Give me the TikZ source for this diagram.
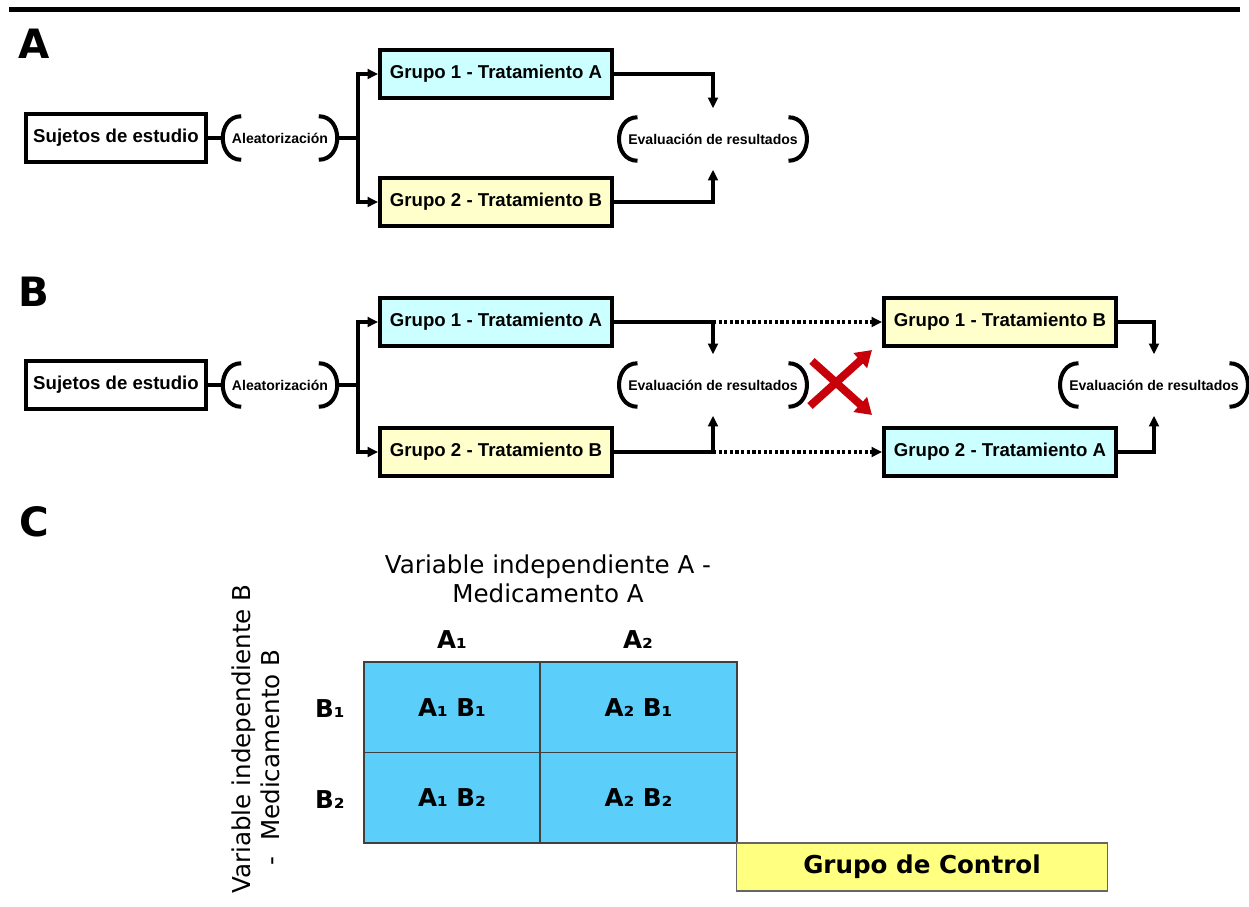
\documentclass[tikz,border=0pt]{standalone}
\usepackage{fontspec}
\setmainfont{Liberation Sans}
\newfontfamily\verdfont{DejaVu Sans}
\usetikzlibrary{arrows.meta}
\definecolor{grupoA}{RGB}{204,255,255}
\definecolor{grupoB}{RGB}{255,255,204}
\definecolor{celeste}{RGB}{92,206,250}
\definecolor{amarillo}{RGB}{255,255,128}
\definecolor{equis}{RGB}{200,0,10}

\begin{document}
\begin{tikzpicture}[x=0.02cm, y=-0.02cm, line width=2pt,
  studybox/.style={draw, line width=2.2pt, fill=white, minimum width=3.6cm, minimum height=0.96cm, inner sep=0pt, font=\bfseries\fontsize{10.6}{12}\selectfont},
  groupbox/.style={studybox, minimum width=4.64cm},
  parenlabel/.style={font=\bfseries\fontsize{8}{9}\selectfont, minimum height=0.8cm, inner xsep=0.12cm, inner ysep=0pt,
    append after command={
      ([xshift=0.34cm]\tikzlastnode.north west) edge[out=180, in=180, looseness=1.45, line width=2.3pt] ([xshift=0.34cm]\tikzlastnode.south west)
      ([xshift=-0.34cm]\tikzlastnode.north east) edge[out=0, in=0, looseness=1.45, line width=2.3pt] ([xshift=-0.34cm]\tikzlastnode.south east)}},
  flecha/.style={-{Triangle[length=6pt, width=5.5pt]}},
  aeval/.style={flecha, shorten >=0.18cm},
  cruce/.style={flecha, dash pattern=on 1.8pt off 1.4pt},
  aspa/.style={draw=equis, line width=4.5pt, -{Triangle[length=9pt, width=11pt]}},
  letra/.style={font=\verdfont\bfseries\fontsize{23}{26}\selectfont},
  ctexto/.style={font=\verdfont\fontsize{14}{16.5}\selectfont, align=center},
  cbold/.style={font=\verdfont\bfseries\fontsize{14}{16}\selectfont},
  celda/.style={cbold, draw=black!75, line width=0.6pt, fill=celeste, minimum height=1.81cm, inner sep=0pt},
  control/.style={cbold, draw=black!60, line width=0.6pt, fill=amarillo, minimum width=7.44cm, minimum height=0.96cm, inner sep=0pt}]
\useasboundingbox (0,0) rectangle (1249,907);
\draw[line width=2.4pt] (9,9.5) -- (1240,9.5);

% A
\node[letra] (letA) at (34,44) {A};
\node[studybox] (sujA) at (116,138) {Sujetos de estudio};
\node[parenlabel] (aleA) at (280,138) {Aleatorización};
\node[groupbox, fill=grupoA] (g1A) at (496,74) {Grupo 1 - Tratamiento A};
\node[groupbox, fill=grupoB] (g2A) at (496,202) {Grupo 2 - Tratamiento B};
\node[parenlabel] (evA) at (713,139) {Evaluación de resultados};
\draw (sujA) -- (aleA);
\draw (aleA.east) -- ++(22,0) coordinate (rA);
\draw[flecha] (rA) |- (g1A);
\draw[flecha] (rA) |- (g2A);
\draw[aeval] (g1A) -| (evA);
\draw[aeval] (g2A) -| (evA);

% B
\node[letra] (letB) at (34,292) {B};
\node[studybox] (sujB) at (116,385) {Sujetos de estudio};
\node[parenlabel] (aleB) at (280,385) {Aleatorización};
\node[groupbox, fill=grupoA] (g1B) at (496,322) {Grupo 1 - Tratamiento A};
\node[groupbox, fill=grupoB] (g2B) at (496,452) {Grupo 2 - Tratamiento B};
\node[parenlabel] (evB) at (713,385) {Evaluación de resultados};
\node[groupbox, fill=grupoB] (g1Bb) at (1000,322) {Grupo 1 - Tratamiento B};
\node[groupbox, fill=grupoA] (g2Bb) at (1000,452) {Grupo 2 - Tratamiento A};
\node[parenlabel] (evBb) at (1154,385) {Evaluación de resultados};
\draw (sujB) -- (aleB);
\draw (aleB.east) -- ++(22,0) coordinate (rB);
\draw[flecha] (rB) |- (g1B);
\draw[flecha] (rB) |- (g2B);
\draw[aeval] (g1B) -| (evB);
\draw[aeval] (g2B) -| (evB);
\draw[cruce] (g1B -| evB) -- (g1Bb);
\draw[cruce] (g2B -| evB) -- (g2Bb);
\draw[aeval] (g1Bb) -| (evBb);
\draw[aeval] (g2Bb) -| (evBb);
\coordinate (x1) at (810,406);
\coordinate (x2) at (872,350);
\coordinate (x3) at (812,361);
\coordinate (x4) at (872,415);
\draw[aspa] (x1) -- (x2);
\draw[aspa] (x3) -- (x4);

% C
\node[letra] (letC) at (34,522) {C};
\node[ctexto] (varA) at (548,579) {Variable independiente A -\\Medicamento A};
\node[ctexto, rotate=90] (varB) at (256,739) {Variable independiente B\\-\ \ Medicamento B\hspace*{21pt}};
\node[cbold] (a1) at (452,640) {A₁};
\node[cbold] (a2) at (638,640) {A₂};
\node[cbold] (b1) at (330,709) {B₁};
\node[cbold] (b2) at (330,800) {B₂};
\node[celda, minimum width=3.52cm] (c11) at (452,707.25) {A₁ B₁};
\node[celda, minimum width=3.94cm] (c21) at (638.5,707.25) {A₂ B₁};
\node[celda, minimum width=3.52cm] (c12) at (452,797.75) {A₁ B₂};
\node[celda, minimum width=3.94cm] (c22) at (638.5,797.75) {A₂ B₂};
\node[control] (ctrl) at (922,867) {Grupo de Control};
\end{tikzpicture}
\end{document}
